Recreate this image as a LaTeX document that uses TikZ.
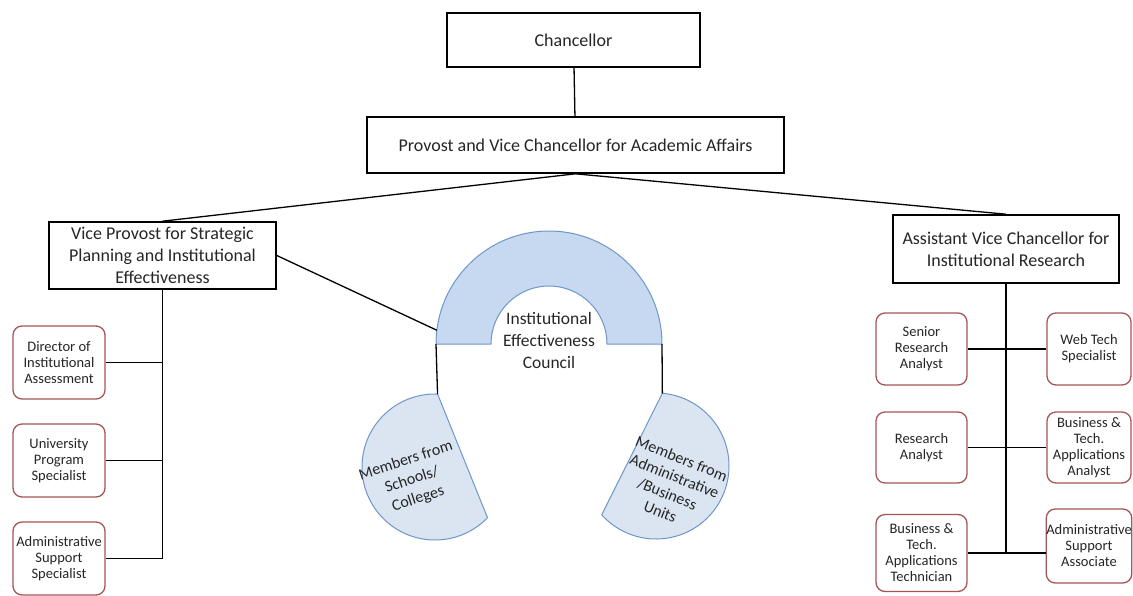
\documentclass[tikz,border=0pt]{standalone}
\usepackage{fontspec}
\setmainfont{Carlito}
\usetikzlibrary{calc}

\definecolor{archfill}{RGB}{198,217,241}
\definecolor{memberfill}{RGB}{219,229,241}
\definecolor{archline}{RGB}{110,150,200}
\definecolor{staffline}{RGB}{165,85,85}

\tikzset{
  topbox/.style={draw=black, line width=1.6pt, fill=white, align=center, text=black!85,
    font=\fontsize{18}{22}\selectfont, inner sep=0pt},
  staffbox/.style={draw=staffline, line width=1.3pt, rounded corners=9pt, fill=white, align=center,
    text=black!85, font=\fontsize{14.5}{16}\selectfont, inner sep=0pt},
  link/.style={draw=black, line width=1.3pt},
  shell/.style={draw=archline, line width=1pt},
  shelltext/.style={align=center, text=black!85, inner sep=0pt},
}

\begin{document}
\begin{tikzpicture}[x=1pt, y=1pt]
            \useasboundingbox (0,0) rectangle (1133,-595);

            %%%%%%%%
            % top of the chart
            %%%%%%%%

            % draw main boxes
            \node[topbox, minimum width=253pt, minimum height=54pt] (chan) at (573.5,-40) {Chancellor};
            \node[topbox, minimum width=417pt, minimum height=56pt] (prov) at (575.5,-145) {Provost and Vice Chancellor for Academic Affairs};
            \node[topbox, minimum width=227pt, minimum height=67pt] (vp) at (162.5,-255.5) {Vice Provost for Strategic\\Planning and Institutional\\Effectiveness};
            \node[topbox, minimum width=226pt, minimum height=68pt] (avc) at (1006,-249) {Assistant Vice Chancellor for\\Institutional Research};

            % draw lines
            \draw[link] (chan) -- (prov);
            \draw[link] (prov.south) -- (vp.north);
            \draw[link] (prov.south) -- (avc.north);

            %%%%%%%%
            % left staff
            %%%%%%%%

            % draw staff boxes
            \node[staffbox, minimum width=92pt, minimum height=73pt] (dia) at (59,-362.5) {Director of\\Institutional\\Assessment};
            \node[staffbox, minimum width=92pt, minimum height=73pt] (ups) at (59,-460.5) {University\\Program\\Specialist};
            \node[staffbox, minimum width=92pt, minimum height=73pt] (ass) at (59,-558.5) {Administrative\\Support\\Specialist};

            % draw lines
            \draw[link] (vp.south) |- (ass.east);
            \draw[link] (dia.east) -- (dia.east -| vp.south);
            \draw[link] (ups.east) -- (ups.east -| vp.south);

            %%%%%%%%
            % council
            %%%%%%%%

            % draw arch
            \coordinate (archC) at (549,-344);
            \coordinate (archL) at ($(archC)+(-113,0)$);
            \coordinate (archR) at ($(archC)+(113,0)$);
            \coordinate (archW) at ($(archC)+(173:113)$);
            \filldraw[shell, fill=archfill] (archL) arc[start angle=180, end angle=0, radius=113] -- ++(-55,0) arc[start angle=0, end angle=180, radius=58] -- cycle;
            \node[shelltext, font=\fontsize{17.5}{22}\selectfont] (iec) at (549,-340) {Institutional\\Effectiveness\\Council};

            % draw members
            \coordinate (schC) at (435,-467);
            \coordinate (schTop) at ($(schC)+(88:73)$);
            \filldraw[shell, fill=memberfill] (schTop) arc[start angle=88, end angle=316, radius=73] -- cycle;
            \node[shelltext, rotate=18, font=\fontsize{16}{20}\selectfont] (sch) at (412,-480) {Members from\\Schools/\\Colleges};

            \coordinate (admC) at (656,-466);
            \coordinate (admTop) at ($(admC)+(85:73)$);
            \filldraw[shell, fill=memberfill] (admTop) arc[start angle=85, end angle=-138, radius=73] -- cycle;
            \node[shelltext, rotate=-22, font=\fontsize{16}{19}\selectfont] (adm) at (671,-485) {Members from\\Administrative\\/Business\\Units};

            % draw lines
            \draw[link] (vp.east) -- (archW);
            \draw[link] (archL) -- (schTop);
            \draw[link] (archR) -- (admTop);

            %%%%%%%%
            % right staff
            %%%%%%%%

            % draw staff boxes
            \node[staffbox, minimum width=91pt, minimum height=72pt] (sra) at (921.5,-349) {Senior\\Research\\Analyst};
            \node[staffbox, minimum width=84pt, minimum height=72pt] (wts) at (1089,-349) {Web Tech\\Specialist};
            \node[staffbox, minimum width=91pt, minimum height=71pt] (ra) at (921.5,-447.5) {Research\\Analyst};
            \node[staffbox, minimum width=84pt, minimum height=71pt] (bta) at (1089,-447.5) {Business \&\\Tech.\\Applications\\Analyst};
            \node[staffbox, minimum width=91pt, minimum height=77pt] (btt) at (921.5,-553) {Business \&\\Tech.\\Applications\\Technician};
            \node[staffbox, minimum width=84pt, minimum height=74pt] (asa) at (1089,-546) {Administrative\\Support\\Associate};

            % draw lines
            \draw[link] (avc.south) -- (avc.south |- btt.east);
            \draw[link] (sra.east) -- (wts.west);
            \draw[link] (ra.east) -- (bta.west);
            \draw[link] (btt.east) -- (btt.east -| asa.west);
\end{tikzpicture}
\end{document}
